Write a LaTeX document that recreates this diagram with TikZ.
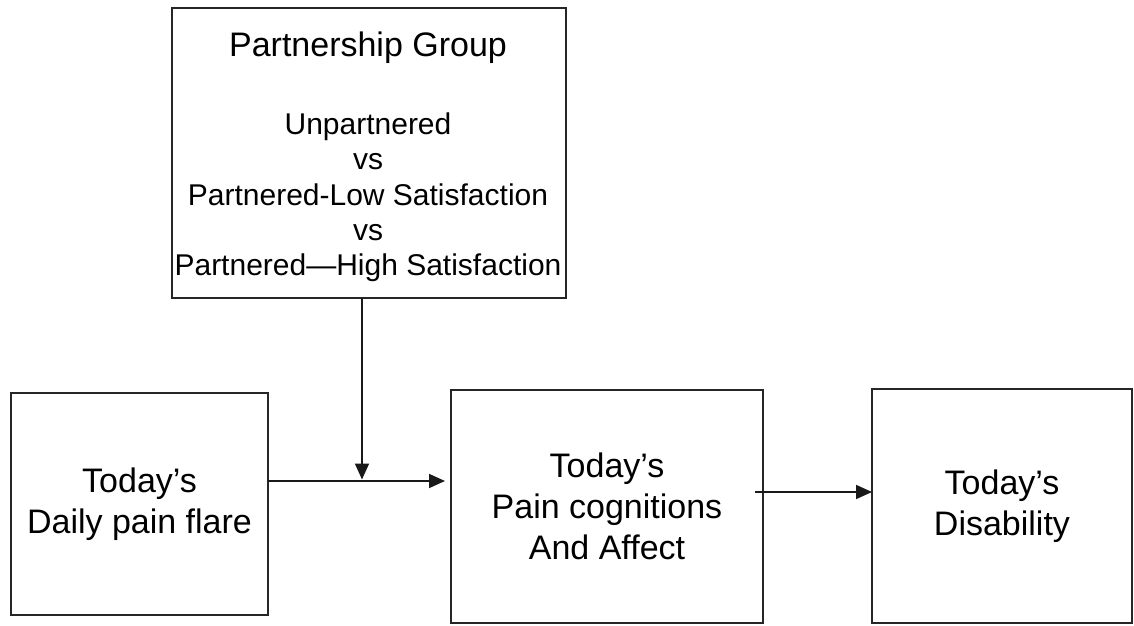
\documentclass[tikz,border=0pt]{standalone}
\usepackage{fontspec}
\setmainfont{Liberation Sans}
\usetikzlibrary{arrows.meta}
\tikzset{
 box/.style={draw=black!85, line width=1.6pt, inner sep=0pt, outer sep=0pt, align=center, font=\fontsize{34}{41}\selectfont},
 conn/.style={draw=black!90, line width=1.7pt, -{Triangle[length=16pt,width=14pt]}},
 lbl/.style={anchor=base, inner sep=0pt, font=\fontsize{30}{35}\selectfont},
 ttl/.style={anchor=base, inner sep=0pt, font=\fontsize{34}{41}\selectfont},
}
\begin{document}
\begin{tikzpicture}[x=1pt,y=1pt]
\useasboundingbox[fill=white] (0,0) rectangle (1134,625);
% boxes
\node[box, minimum width=394pt, minimum height=290pt] (pg) at (369,472) {};
\node[box, minimum width=257pt, minimum height=222pt] (flare) at (139.5,121) {Today’s\\Daily pain flare};
\node[box, minimum width=312pt, minimum height=233pt] (cog) at (607,118.5) {Today’s\\Pain cognitions\\And Affect};
\node[box, minimum width=260pt, minimum height=234pt] (dis) at (1002,119) {Today’s\\Disability};
% texts of the top box
\node[ttl] (pgt) at (368,568) {Partnership Group};
\node[lbl] (l1) at (368,490) {Unpartnered};
\node[lbl] (l2) at (368,455) {vs};
\node[lbl] (l3) at (368,420) {Partnered-Low Satisfaction};
\node[lbl] (l4) at (368,385) {vs};
\node[lbl] (l5) at (368,350) {Partnered—High Satisfaction};
% connectors
\coordinate (join) at (362,144);
\draw[conn] (join |- pg.south) -- ([yshift=1.5pt]join);
\draw[conn] (flare.east |- join) -- ([xshift=-6pt]join -| cog.west);
\coordinate (a2) at (755,133);
\draw[conn] (a2) -- (a2 -| dis.west);
\end{tikzpicture}
\end{document}
